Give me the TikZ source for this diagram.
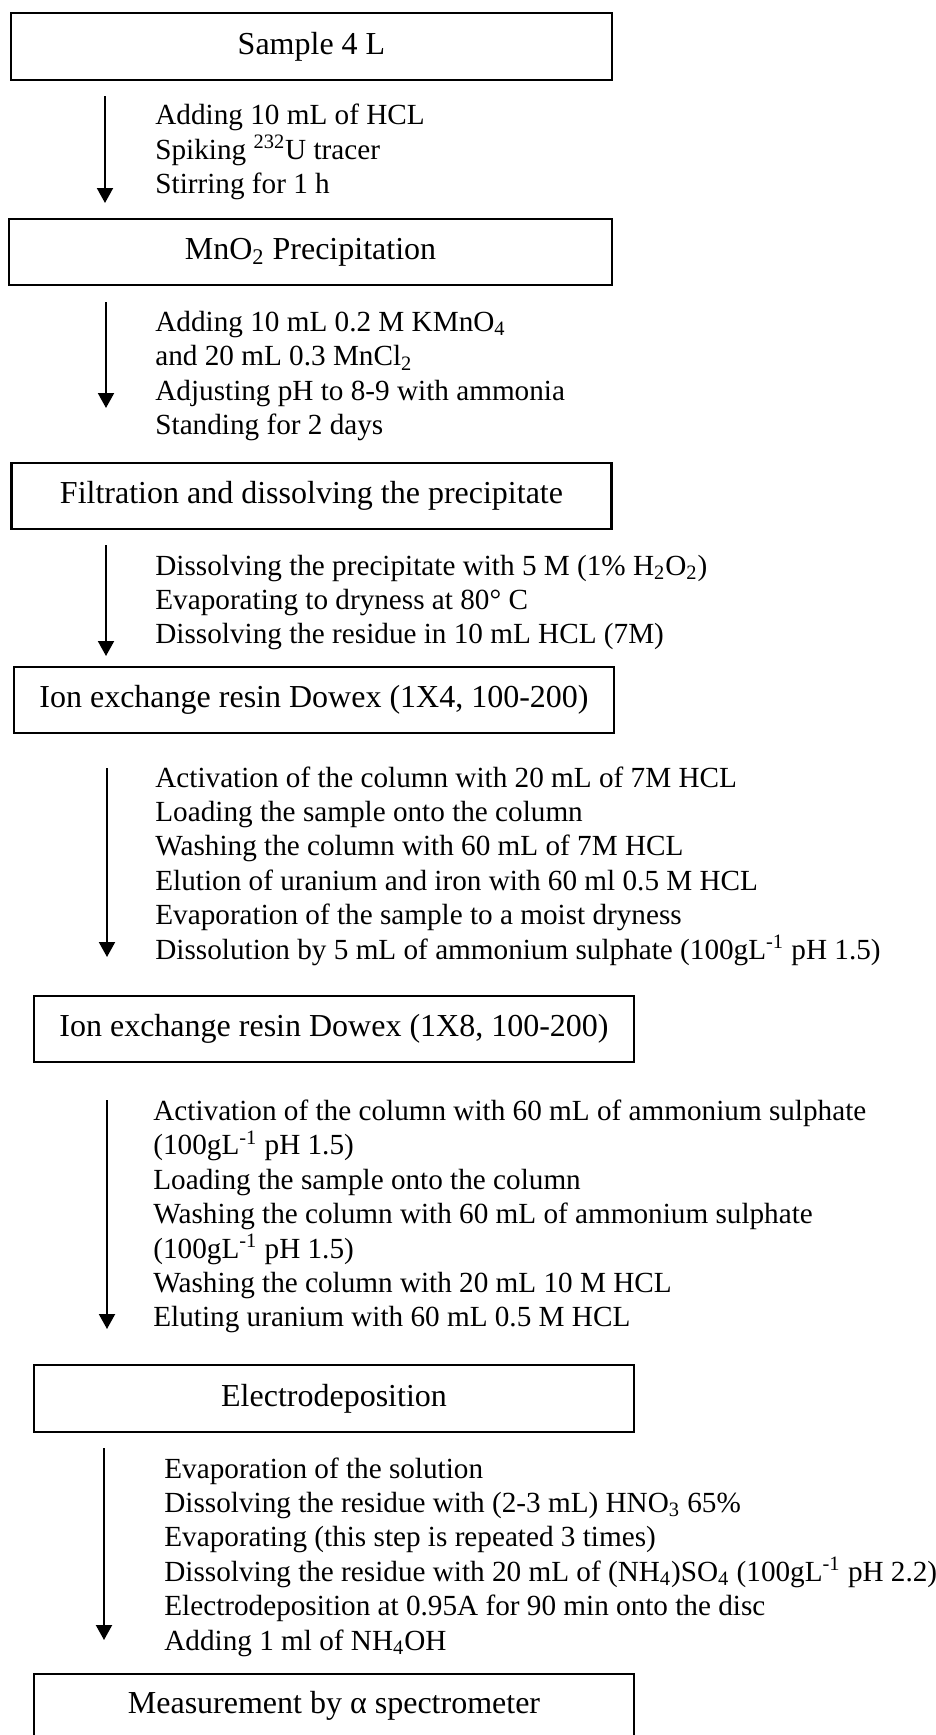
\documentclass[tikz,border=0pt]{standalone}
\usepackage{fontspec}
\setmainfont{Liberation Serif}
\usetikzlibrary{arrows.meta}
\tikzset{
  px/.style={x=0.5pt,y=-0.5pt},
  stagebox/.style={draw,line width=1.25pt,inner sep=0pt,font=\fontsize{16}{19}\selectfont},
  steptext/.style={anchor=west,align=left,inner sep=0pt,font=\fontsize{14.6}{17.2}\selectfont},
  flowarrow/.style={line width=1pt,-{Triangle[width=8pt,length=7.5pt]}}
}
\begin{document}
\begin{tikzpicture}[px]
\useasboundingbox (0,0) rectangle (936,1735);
\fill[white] (0,0) rectangle (936,1735);
% boxes
\node[stagebox,minimum width=300.5pt,minimum height=33.5pt] (b1) at (311.5,46.5) {Sample 4 L};
\node[stagebox,minimum width=301.5pt,minimum height=33pt] (b2) at (310.5,252) {MnO\textsubscript{2} Precipitation};
\node[stagebox,minimum width=300pt,minimum height=33pt] (b3) at (311.5,496) {Filtration and dissolving the precipitate};
\node[stagebox,minimum width=300pt,minimum height=33pt] (b4) at (314,700) {Ion exchange resin Dowex (1X4, 100-200)};
\node[stagebox,minimum width=300pt,minimum height=33pt] (b5) at (334,1029) {Ion exchange resin Dowex (1X8, 100-200)};
\node[stagebox,minimum width=300pt,minimum height=33.5pt] (b6) at (334,1398.5) {Electrodeposition};
\begin{scope}
\clip (0,0) rectangle (936,1735);
\coordinate (b7l) at (34,1760);
\coordinate (b7tl) at (34,1674);
\coordinate (b7tr) at (634,1674);
\coordinate (b7r) at (634,1760);
\draw[line width=1.25pt] (b7l) -- (b7tl) -- (b7tr) -- (b7r);
\end{scope}
\node[font=\fontsize{16}{19}\selectfont,inner sep=0pt] (b7) at (334,1706) {Measurement by α spectrometer};
% step texts
\node[steptext] (t1) at (155,152) {Adding 10 mL of HCL\\Spiking \textsuperscript{232}U tracer\\Stirring for 1 h};
\node[steptext] (t2) at (155,376) {Adding 10 mL 0.2 M KMnO\textsubscript{4}\\and 20 mL 0.3 MnCl\textsubscript{2}\\Adjusting pH to 8-9 with ammonia\\Standing for 2 days};
\node[steptext] (t3) at (155,602.5) {Dissolving the precipitate with 5 M (1\% H\textsubscript{2}O\textsubscript{2})\\Evaporating to dryness at 80° C\\Dissolving the residue in 10 mL HCL (7M)};
\node[steptext] (t4) at (155,866) {Activation of the column with 20 mL of 7M HCL\\Loading the sample onto the column\\Washing the column with 60 mL of 7M HCL\\Elution of uranium and iron with 60 ml 0.5 M HCL\\Evaporation of the sample to a moist dryness\\Dissolution by 5 mL of ammonium sulphate (100gL\textsuperscript{-1} pH 1.5)};
\node[steptext] (t5) at (153,1216.5) {Activation of the column with 60 mL of ammonium sulphate\\(100gL\textsuperscript{-1} pH 1.5)\\Loading the sample onto the column\\Washing the column with 60 mL of ammonium sulphate\\(100gL\textsuperscript{-1} pH 1.5)\\Washing the column with 20 mL 10 M HCL\\Eluting uranium with 60 mL 0.5 M HCL};
\node[steptext] (t6) at (164,1557) {Evaporation of the solution\\Dissolving the residue with (2-3 mL) HNO\textsubscript{3} 65\%\\Evaporating (this step is repeated 3 times)\\Dissolving the residue with 20 mL of (NH\textsubscript{4})SO\textsubscript{4} (100gL\textsuperscript{-1} pH 2.2)\\Electrodeposition at 0.95A for 90 min onto the disc\\Adding 1 ml of NH\textsubscript{4}OH};
% arrows
\coordinate (a1s) at (105,96);  \coordinate (a1e) at (105,203);
\coordinate (a2s) at (106,302); \coordinate (a2e) at (106,408);
\coordinate (a3s) at (106,545); \coordinate (a3e) at (106,656);
\coordinate (a4s) at (107,768); \coordinate (a4e) at (107,957);
\coordinate (a5s) at (107,1100); \coordinate (a5e) at (107,1329);
\coordinate (a6s) at (104,1448); \coordinate (a6e) at (104,1640);
\draw[flowarrow] (a1s) -- (a1e);
\draw[flowarrow] (a2s) -- (a2e);
\draw[flowarrow] (a3s) -- (a3e);
\draw[flowarrow] (a4s) -- (a4e);
\draw[flowarrow] (a5s) -- (a5e);
\draw[flowarrow] (a6s) -- (a6e);
\end{tikzpicture}
\end{document}
